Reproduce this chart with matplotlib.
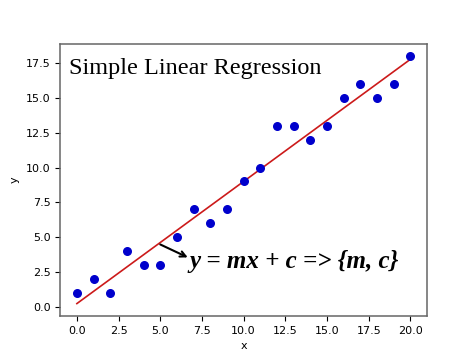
import matplotlib.pyplot as plt
import numpy as np

# data points
x = [0, 1, 2, 3, 4, 5, 6, 7, 8, 9, 10, 11, 12, 13, 14, 15, 16, 17, 18, 19, 20]
y = [1, 2, 1, 4, 3, 3, 5, 7, 6, 7, 9, 10, 13, 13, 12, 13, 15, 16, 15, 16, 18]

# fitted line
m = 0.879
c = 0.21
line_x = np.array([0, 20])

fig = plt.figure(figsize=(4.74, 3.55), dpi=100)
ax = fig.add_axes([0.127, 0.110, 0.774, 0.766])

ax.scatter(x, y, color='#0000cc', s=30, zorder=3)
ax.plot(line_x, m * line_x + c, color='#cc1a1a', lw=1.2, zorder=2)

ax.text(-0.5, 16.75, "Simple Linear Regression", family='Liberation Serif',
        fontsize=17.5)

ax.annotate('', xy=(6.8, 3.45), xytext=(4.85, 4.55),
            arrowprops=dict(arrowstyle='->', color='black', lw=1.5))
ax.text(6.75, 3.25, "y = mx + c => {m, c}", family='Liberation Serif',
        fontsize=18, fontweight='bold', style='italic', va='center')

ax.set_xlabel("x", fontsize=8)
ax.set_ylabel("y", fontsize=8)
ax.tick_params(labelsize=8)
for s in ax.spines.values():
    s.set_color('#666666')
    s.set_linewidth(1.1)

plt.savefig("out.png", dpi=100)
